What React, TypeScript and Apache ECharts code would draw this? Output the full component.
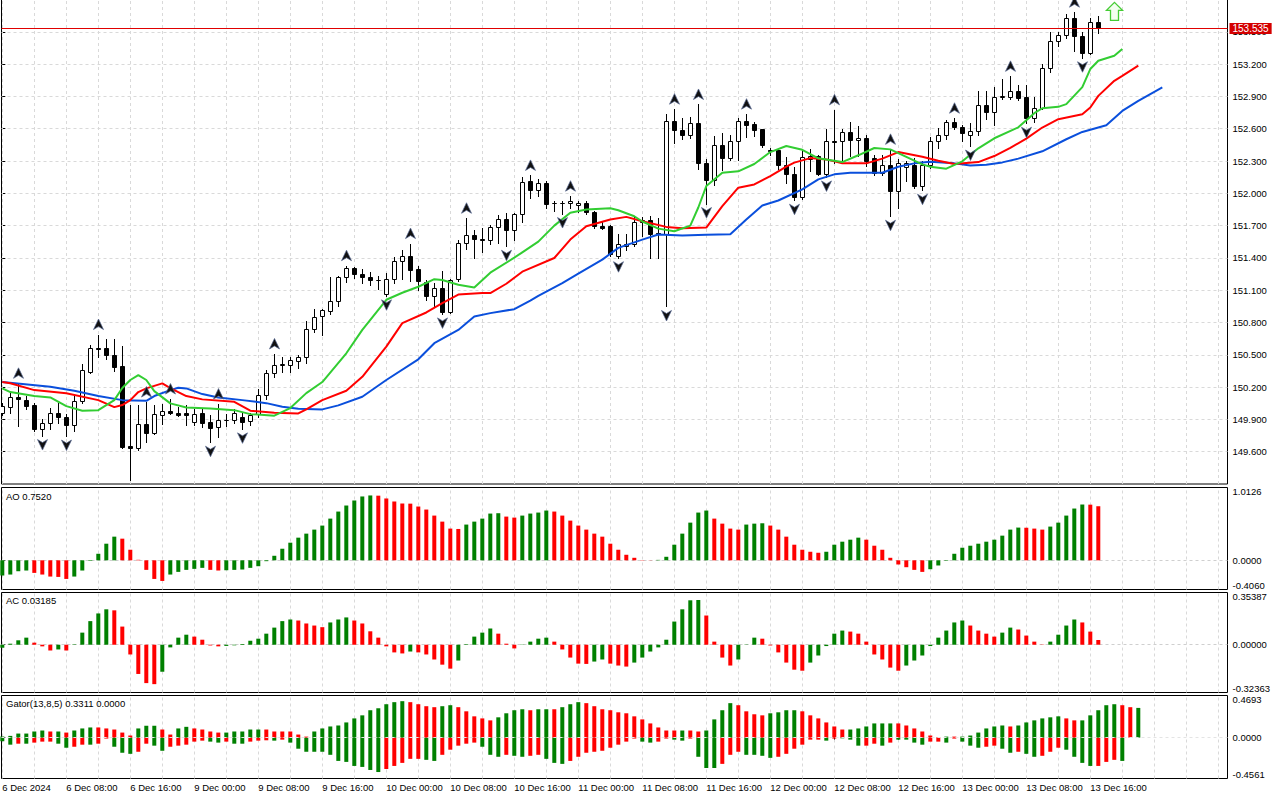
import React, { useEffect, useRef } from "react";
import * as echarts from "echarts";

// ---------------- data ----------------
const timeLabelBars = [0, 8, 16, 24, 32, 40, 48, 56, 64, 72, 80, 88, 96, 104, 112, 120, 128, 136];
const timeLabels = [
  "6 Dec 2024", "6 Dec 08:00", "6 Dec 16:00", "9 Dec 00:00", "9 Dec 08:00", "9 Dec 16:00",
  "10 Dec 00:00", "10 Dec 08:00", "10 Dec 16:00", "11 Dec 00:00", "11 Dec 08:00", "11 Dec 16:00",
  "12 Dec 00:00", "12 Dec 08:00", "12 Dec 16:00", "13 Dec 00:00", "13 Dec 08:00", "13 Dec 16:00",
];

const opens = [
  149.961, 150.011, 150.104, 150.079, 150.030, 149.812, 149.862, 149.955, 149.918, 149.844,
  150.073, 150.340, 150.564, 150.564, 150.501, 150.396, 149.651, 149.632, 149.856, 149.775,
  149.942, 149.980, 149.955, 149.961, 149.874, 149.955, 149.874, 149.825, 149.899, 149.893,
  149.924, 149.881, 149.949, 150.129, 150.328, 150.408, 150.408, 150.440, 150.483, 150.744,
  150.862, 150.906, 150.999, 151.222, 151.309, 151.253, 151.222, 151.197, 151.067, 151.204,
  151.372, 151.421, 151.297, 151.179, 151.042, 151.116, 150.899, 151.204, 151.539, 151.614,
  151.576, 151.570, 151.688, 151.763, 151.663, 151.812, 152.110, 152.029, 152.098, 151.912,
  151.912, 151.912, 151.893, 151.912, 151.824, 151.700, 151.694, 151.421, 151.508, 151.533,
  151.731, 151.756, 151.632, 151.619, 152.669, 152.588, 152.545, 152.651, 152.285, 152.122,
  152.452, 152.327, 152.490, 152.676, 152.644, 152.595, 152.402, 152.402, 152.266, 152.178,
  151.961, 152.315, 152.346, 152.178, 152.490, 152.483, 152.570, 152.495, 152.514, 152.327,
  152.185, 152.266, 152.024, 152.247, 152.266, 152.067, 152.266, 152.483, 152.539, 152.663,
  152.613, 152.539, 152.583, 152.818, 152.756, 152.899, 152.893, 152.949, 152.893, 152.700,
  152.793, 153.160, 153.415, 153.471, 153.626, 153.459, 153.303, 153.595,
];
const closes = [
  150.023, 150.104, 150.086, 150.023, 149.812, 149.862, 149.955, 149.918, 149.844, 150.073,
  150.359, 150.564, 150.557, 150.496, 150.390, 149.644, 149.639, 149.856, 149.775, 149.949,
  149.974, 149.955, 149.942, 149.942, 149.949, 149.868, 149.818, 149.899, 149.893, 149.961,
  149.874, 149.937, 150.123, 150.334, 150.408, 150.410, 150.452, 150.477, 150.744, 150.850,
  150.918, 150.999, 151.222, 151.309, 151.253, 151.222, 151.197, 151.192, 151.204, 151.372,
  151.414, 151.290, 151.185, 151.042, 151.116, 150.899, 151.191, 151.539, 151.614, 151.576,
  151.570, 151.688, 151.763, 151.657, 151.812, 152.108, 152.029, 152.098, 151.899, 151.906,
  151.910, 151.930, 151.912, 151.824, 151.694, 151.682, 151.433, 151.526, 151.533, 151.738,
  151.756, 151.626, 151.619, 152.669, 152.588, 152.545, 152.651, 152.285, 152.122, 152.452,
  152.327, 152.490, 152.676, 152.639, 152.588, 152.446, 152.396, 152.259, 152.178, 151.961,
  152.340, 152.346, 152.178, 152.483, 152.476, 152.570, 152.495, 152.514, 152.303, 152.185,
  152.266, 152.024, 152.285, 152.285, 152.067, 152.266, 152.483, 152.539, 152.663, 152.613,
  152.564, 152.583, 152.818, 152.756, 152.899, 152.902, 152.949, 152.886, 152.700, 152.793,
  153.166, 153.415, 153.471, 153.626, 153.459, 153.303, 153.595, 153.535,
];
const lows = [
  149.939, 149.955, 149.837, 149.993, 149.793, 149.750, 149.812, 149.862, 149.745, 149.793,
  150.049, 150.328, 150.483, 150.458, 150.352, 149.632, 149.334, 149.620, 149.688, 149.762,
  149.856, 149.949, 149.930, 149.849, 149.844, 149.831, 149.688, 149.732, 149.837, 149.862,
  149.812, 149.844, 149.918, 150.091, 150.296, 150.340, 150.340, 150.377, 150.421, 150.713,
  150.682, 150.880, 150.955, 151.172, 151.209, 151.166, 151.148, 151.111, 151.048, 151.166,
  151.204, 151.185, 151.098, 151.011, 150.949, 150.880, 150.890, 151.185, 151.483, 151.396,
  151.458, 151.533, 151.542, 151.508, 151.563, 151.731, 151.955, 151.973, 151.862, 151.831,
  151.812, 151.868, 151.824, 151.812, 151.675, 151.670, 151.421, 151.402, 151.477, 151.508,
  151.607, 151.396, 151.396, 150.949, 152.471, 152.502, 152.514, 152.229, 151.905, 152.080,
  152.216, 152.309, 152.309, 152.527, 152.532, 152.434, 152.359, 152.229, 152.092, 151.936,
  151.943, 152.204, 152.171, 152.152, 152.285, 152.285, 152.346, 152.346, 152.253, 152.173,
  152.173, 151.787, 151.868, 152.110, 152.048, 152.029, 152.234, 152.421, 152.502, 152.595,
  152.490, 152.439, 152.539, 152.688, 152.632, 152.874, 152.874, 152.868, 152.651, 152.660,
  152.781, 153.129, 153.365, 153.445, 153.322, 153.259, 153.296, 153.489,
];
const highs = [
  150.049, 150.147, 150.235, 150.117, 150.049, 149.905, 150.005, 150.049, 149.949, 150.123,
  150.415, 150.594, 150.688, 150.645, 150.650, 150.582, 150.030, 150.035, 150.061, 150.030,
  150.042, 150.089, 150.011, 150.035, 149.998, 149.998, 149.942, 150.042, 149.949, 149.998,
  149.961, 149.961, 150.179, 150.359, 150.508, 150.477, 150.483, 150.500, 150.818, 150.924,
  150.930, 151.222, 151.235, 151.328, 151.315, 151.297, 151.272, 151.228, 151.260, 151.409,
  151.477, 151.533, 151.321, 151.197, 151.166, 151.278, 151.204, 151.570, 151.768, 151.657,
  151.675, 151.707, 151.794, 151.819, 151.819, 152.154, 152.166, 152.135, 152.110, 151.924,
  151.924, 151.973, 151.924, 151.930, 151.837, 151.738, 151.707, 151.626, 151.626, 151.787,
  151.781, 151.787, 151.775, 152.737, 152.781, 152.700, 152.713, 152.825, 152.322, 152.532,
  152.558, 152.545, 152.697, 152.735, 152.663, 152.601, 152.421, 152.421, 152.340, 152.247,
  152.408, 152.408, 152.359, 152.601, 152.775, 152.601, 152.663, 152.626, 152.545, 152.359,
  152.359, 152.408, 152.315, 152.297, 152.327, 152.297, 152.520, 152.607, 152.681, 152.697,
  152.639, 152.657, 152.949, 152.949, 152.986, 153.061, 153.086, 153.005, 153.005, 152.893,
  153.198, 153.496, 153.501, 153.664, 153.682, 153.501, 153.626, 153.645,
];

const fractalUpBars = [2, 12, 18, 21, 27, 34, 43, 51, 58, 66, 71, 84, 87, 93, 104, 111, 119, 126, 134];
const fractalDownBars = [5, 8, 16, 26, 30, 48, 55, 63, 70, 77, 83, 88, 99, 103, 111, 115, 121, 128, 135];

const lastPrice = 153.535;
const signalBar = 139;
const signalPrice = 153.69;

// Alligator: [bar, price]
const jawLine = [
  [0, 150.247], [6, 150.203], [9, 150.166], [12, 150.117], [15, 150.079], [18, 150.073], [19, 150.117],
  [21, 150.172], [22, 150.194], [23, 150.188], [25, 150.135], [27, 150.104], [30, 150.079], [33, 150.051],
  [35, 150.017], [37, 149.998], [40, 149.993], [42, 150.030], [45, 150.110], [48, 150.266], [52, 150.458],
  [54, 150.608], [57, 150.731], [59, 150.855], [61, 150.887], [64, 150.924], [66, 151.004], [67, 151.048],
  [70, 151.166], [72, 151.253], [75, 151.384], [77, 151.493], [80, 151.570], [82, 151.617], [85, 151.607],
  [88, 151.614], [91, 151.619], [93, 151.756], [95, 151.887], [97, 151.933], [100, 152.036], [102, 152.129],
  [104, 152.176], [106, 152.191], [110, 152.191], [112, 152.247], [114, 152.278], [116, 152.294], [119, 152.278],
  [121, 152.259], [123, 152.266], [125, 152.287], [127, 152.322], [130, 152.390], [133, 152.502], [135, 152.570],
  [138, 152.632], [140, 152.765], [142, 152.859], [145, 152.983],
];
const teethLine = [
  [0, 150.247], [1, 150.235], [4, 150.172], [8, 150.142], [12, 150.079], [14, 150.014], [15, 150.033],
  [16, 150.079], [17, 150.154], [18, 150.188], [20, 150.235], [21, 150.191], [23, 150.117], [25, 150.086],
  [29, 150.063], [31, 149.981], [34, 149.961], [37, 149.955], [38, 149.993], [40, 150.079], [43, 150.166],
  [45, 150.296], [48, 150.576], [50, 150.794], [53, 150.893], [55, 150.980], [57, 151.060], [60, 151.073],
  [61, 151.073], [63, 151.160], [65, 151.272], [69, 151.399], [71, 151.570], [73, 151.694], [76, 151.756],
  [78, 151.781], [80, 151.740], [83, 151.688], [85, 151.675], [88, 151.682], [90, 151.880], [92, 152.052],
  [94, 152.082], [96, 152.160], [98, 152.247], [99, 152.285], [101, 152.327], [103, 152.315], [105, 152.278],
  [108, 152.278], [110, 152.322], [112, 152.383], [115, 152.340], [117, 152.303], [119, 152.272], [122, 152.290],
  [124, 152.346], [126, 152.422], [128, 152.508], [130, 152.611], [132, 152.688], [135, 152.735], [136, 152.797],
  [137, 152.905], [139, 153.045], [140, 153.091], [142, 153.185],
];
const lipsLine = [
  [0, 150.188], [1, 150.154], [4, 150.117], [6, 150.104], [8, 150.023], [10, 149.981], [12, 149.986],
  [14, 150.079], [15, 150.191], [16, 150.266], [17, 150.312], [18, 150.266], [19, 150.163], [21, 150.049],
  [23, 150.011], [26, 150.002], [29, 149.986], [31, 149.949], [34, 149.935], [36, 150.005], [38, 150.144],
  [40, 150.247], [43, 150.514], [45, 150.731], [48, 151.011], [50, 151.076], [52, 151.132], [54, 151.202],
  [55, 151.195], [57, 151.151], [59, 151.126], [61, 151.263], [64, 151.402], [65, 151.452], [67, 151.551],
  [69, 151.700], [71, 151.819], [73, 151.849], [76, 151.862], [77, 151.843], [79, 151.787], [80, 151.738],
  [82, 151.672], [84, 151.647], [86, 151.700], [87, 151.868], [88, 152.067], [90, 152.190], [92, 152.204],
  [94, 152.272], [96, 152.383], [98, 152.439], [100, 152.404], [102, 152.325], [105, 152.290], [107, 152.353],
  [109, 152.421], [111, 152.408], [113, 152.339], [115, 152.269], [116, 152.247], [118, 152.229], [120, 152.297],
  [122, 152.418], [124, 152.511], [127, 152.613], [129, 152.744], [130, 152.790], [132, 152.803], [133, 152.828],
  [135, 152.986], [136, 153.154], [137, 153.231], [139, 153.278], [140, 153.340],
];

// Awesome Oscillator
const aoValues = [
  -0.212, -0.198, -0.152, -0.142, -0.175, -0.198, -0.226, -0.231, -0.259, -0.226,
  -0.142, -0.008, 0.091, 0.231, 0.329, 0.301, 0.147, 0.007, -0.133, -0.259,
  -0.287, -0.198, -0.161, -0.133, -0.119, -0.105, -0.133, -0.142, -0.138, -0.133,
  -0.128, -0.105, -0.082, -0.012, 0.063, 0.161, 0.245, 0.315, 0.371, 0.427,
  0.483, 0.580, 0.678, 0.762, 0.832, 0.888, 0.902, 0.899, 0.860, 0.818,
  0.790, 0.788, 0.748, 0.706, 0.622, 0.538, 0.441, 0.436, 0.497, 0.538,
  0.580, 0.650, 0.655, 0.608, 0.594, 0.622, 0.650, 0.664, 0.692, 0.678,
  0.622, 0.552, 0.483, 0.427, 0.371, 0.329, 0.231, 0.147, 0.077, 0.035,
  0.004, 0.002, 0.006, 0.049, 0.217, 0.371, 0.524, 0.664, 0.692, 0.580,
  0.510, 0.441, 0.427, 0.497, 0.510, 0.515, 0.483, 0.427, 0.329, 0.217,
  0.147, 0.119, 0.105, 0.119, 0.217, 0.259, 0.287, 0.315, 0.287, 0.203,
  0.147, 0.035, -0.058, -0.096, -0.133, -0.161, -0.124, -0.072, -0.007, 0.091,
  0.175, 0.203, 0.231, 0.259, 0.287, 0.343, 0.427, 0.455, 0.453, 0.441,
  0.427, 0.469, 0.524, 0.622, 0.720, 0.776, 0.774, 0.752,
];
const aoDirections =
  "GGGGRRRRRG" + "GGGGGRRRRR" + "RGGGGGRRGG" + "GGGGGGGGGG" + "GGGGGGGRRR" +
  "RRRRRRRRGG" + "GGGRRGGGGR" + "RRRRRRRRRR" + "RRGGGGGGGR" + "RRRGGGRRRR" +
  "RRRGGGGGRR" + "RRRRRRGGGG" + "GGGGGGGGRR" + "RGGGGGRR";

// Accelerator Oscillator
const acValues = [
  -0.021, 0.007, 0.030, 0.048, 0.014, -0.011, -0.039, -0.032, -0.039, 0.003,
  0.082, 0.160, 0.212, 0.240, 0.233, 0.123, -0.066, -0.198, -0.260, -0.267,
  -0.183, -0.018, 0.048, 0.068, 0.055, 0.034, -0.005, -0.011, -0.008, -0.004,
  0.005, 0.027, 0.041, 0.075, 0.116, 0.160, 0.171, 0.164, 0.144, 0.130,
  0.119, 0.151, 0.171, 0.185, 0.164, 0.144, 0.091, 0.048, -0.011, -0.052,
  -0.059, -0.046, -0.052, -0.066, -0.100, -0.135, -0.162, -0.107, 0.004, 0.055,
  0.082, 0.110, 0.075, 0.007, -0.025, -0.002, 0.021, 0.041, 0.048, 0.021,
  -0.032, -0.087, -0.128, -0.130, -0.114, -0.100, -0.128, -0.141, -0.148, -0.121,
  -0.087, -0.046, -0.018, 0.034, 0.157, 0.240, 0.301, 0.303, 0.198, 0.021,
  -0.087, -0.141, -0.100, 0.002, 0.048, 0.041, -0.005, -0.052, -0.121, -0.169,
  -0.176, -0.121, -0.073, -0.009, 0.075, 0.096, 0.089, 0.075, 0.021, -0.066,
  -0.100, -0.155, -0.176, -0.141, -0.107, -0.073, -0.009, 0.048, 0.096, 0.151,
  0.164, 0.130, 0.096, 0.075, 0.055, 0.082, 0.116, 0.103, 0.062, 0.021,
  -0.002, 0.021, 0.068, 0.130, 0.171, 0.151, 0.089, 0.032,
];
const acDirections =
  "GGGGRRRGRG" + "GGGGRRRRRR" + "GGGGRRRRGG" + "GGGGGGGRRR" + "RGGGRRRRRR" +
  "RGRRRRRGGG" + "GGRRRGGGGR" + "RRRRGGRRRG" + "GGGGGGGGRR" + "RRGGGRRRRR" +
  "RGGGGGRRRR" + "RRRGGGGGGG" + "GRRRRGGRRR" + "RGGGGRRR";

// Gator oscillator
const gatorUpper = [
  0.011, 0.019, 0.045, 0.045, 0.068, 0.079, 0.068, 0.068, 0.056, 0.079,
  0.102, 0.113, 0.113, 0.102, 0.090, 0.056, 0.023, 0.102, 0.132, 0.132,
  0.090, 0.034, 0.102, 0.120, 0.102, 0.090, 0.068, 0.056, 0.056, 0.068,
  0.068, 0.090, 0.090, 0.090, 0.068, 0.068, 0.068, 0.034, 0.011, 0.068,
  0.102, 0.124, 0.135, 0.169, 0.214, 0.248, 0.305, 0.327, 0.372, 0.395,
  0.406, 0.395, 0.372, 0.350, 0.339, 0.350, 0.361, 0.339, 0.293, 0.237,
  0.214, 0.192, 0.226, 0.271, 0.305, 0.316, 0.305, 0.316, 0.316, 0.316,
  0.339, 0.372, 0.395, 0.384, 0.350, 0.316, 0.305, 0.282, 0.271, 0.237,
  0.203, 0.158, 0.113, 0.079, 0.079, 0.079, 0.079, 0.068, 0.079, 0.203,
  0.305, 0.384, 0.361, 0.293, 0.260, 0.248, 0.271, 0.282, 0.305, 0.305,
  0.293, 0.248, 0.214, 0.169, 0.124, 0.090, 0.090, 0.102, 0.124, 0.158,
  0.158, 0.158, 0.158, 0.135, 0.102, 0.068, 0.023, 0.004, 0.011, 0.011,
  0.011, 0.023, 0.056, 0.102, 0.124, 0.135, 0.124, 0.135, 0.169, 0.192,
  0.214, 0.226, 0.237, 0.214, 0.192, 0.192, 0.248, 0.305, 0.361, 0.372,
  0.361, 0.339, 0.331,
];
const gatorUpperDirections =
  "GGGGGGRGRG" + "GGRRRRRGGG" + "RRGGRRRRGG" + "GGGRRRRRRG" + "GGGGGGGGGG" +
  "GRRRRGGRRR" + "RRGGGGRGGR" + "GGGRRRRRRR" + "RRRRRGRRGG" + "GGRRRRGGGG" +
  "RRRRRRGGGG" + "GGRRRRRRGR" + "GGGGGGRGGG" + "GGGRRGGGGG" + "RRG";
const gatorLower = [
  -0.041, -0.079, -0.068, -0.068, -0.056, -0.045, -0.045, -0.068, -0.113, -0.102,
  -0.079, -0.079, -0.068, -0.011, -0.102, -0.169, -0.181, -0.158, -0.068, -0.090,
  -0.147, -0.102, -0.090, -0.079, -0.045, -0.034, -0.045, -0.056, -0.045, -0.068,
  -0.068, -0.045, -0.034, -0.030, -0.034, -0.023, -0.056, -0.124, -0.158, -0.158,
  -0.158, -0.192, -0.260, -0.271, -0.316, -0.327, -0.361, -0.384, -0.350, -0.316,
  -0.282, -0.237, -0.237, -0.248, -0.260, -0.192, -0.135, -0.090, -0.068, -0.056,
  -0.102, -0.192, -0.214, -0.192, -0.203, -0.214, -0.203, -0.192, -0.237, -0.282,
  -0.293, -0.260, -0.214, -0.169, -0.158, -0.147, -0.113, -0.079, -0.045, -0.011,
  -0.045, -0.056, -0.045, -0.011, -0.023, -0.034, -0.011, -0.214, -0.339, -0.339,
  -0.293, -0.192, -0.158, -0.192, -0.192, -0.203, -0.226, -0.214, -0.181, -0.124,
  -0.079, -0.023, -0.023, -0.034, -0.011, -0.008, -0.023, -0.090, -0.090, -0.068,
  -0.090, -0.056, -0.023, -0.023, -0.056, -0.079, -0.045, -0.045, -0.056, -0.011,
  -0.045, -0.090, -0.113, -0.102, -0.090, -0.124, -0.169, -0.158, -0.181, -0.214,
  -0.203, -0.158, -0.113, -0.135, -0.214, -0.282, -0.316, -0.316, -0.271, -0.248,
  -0.260,
];
const gatorLowerDirections =
  "GGRGRRRGGR" + "RGRRGGGRRG" + "GRRRRRGGRG" + "GRRRGRGGGG" + "GGGGGGGGRR" +
  "RRRGGRRRRR" + "GGGRGGRRGG" + "GRRRRRRRRR" + "GGRRGGRGGG" + "RRRGGGGRRR" +
  "RRRGRGGGRR" + "GRGGGGRRGR" + "GGGRRGGRGG" + "RRRGGGGRRRG";

// panel scales (min, zero, max) as printed on the right axis
const aoScale = [-0.406, 0, 1.0126];
const acScale = [-0.32363, 0, 0.35387];
const gatorScale = [-0.4561, 0, 0.4693];
const aoTitle = "AO 0.7520";
const acTitle = "AC 0.03185";
const gatorTitle = "Gator(13,8,5) 0.3311 0.0000";

// ---------------- styling / layout ----------------
const FONT = '"Liberation Sans", Arial, sans-serif';
const FS = 9.5;
const GREEN = "#008000";
const RED = "#ff0000";
const GRID_LINE = "#d9d9d9";
const PLOT_LEFT = 1.5;
const PLOT_WIDTH = 1226;
const X_MIN = -0.1;
const X_MAX = X_MIN + PLOT_WIDTH / 8;

const gridBars: number[] = [];
for (let b = 0; b <= 152; b += 4) gridBars.push(b);

function colorOf(ch: string) {
  return ch === "G" ? GREEN : RED;
}

function makeXAxis(gridIndex: number, showLabels: boolean) {
  return {
    type: "value",
    gridIndex,
    min: X_MIN,
    max: X_MAX,
    show: showLabels,
    axisLine: { show: false },
    splitLine: { show: false },
    axisTick: {
      show: showLabels,
      length: 4,
      customValues: timeLabelBars,
      lineStyle: { color: "#000", width: 1 },
    },
    axisLabel: {
      show: showLabels,
      customValues: timeLabelBars,
      formatter: (v: number) => {
        const k = timeLabelBars.indexOf(Math.round(v));
        return k >= 0 ? timeLabels[k] : "";
      },
      align: "left",
      margin: 4,
      color: "#000",
      fontFamily: FONT,
      fontSize: FS,
    },
  };
}

function makeSubYAxis(gridIndex: number, scale: number[], digits: number) {
  const [min, , max] = scale;
  return {
    type: "value",
    gridIndex,
    position: "right",
    min,
    max,
    axisLine: { show: false },
    splitLine: { show: false },
    axisTick: { show: true, length: 3, customValues: scale, lineStyle: { color: "#000" } },
    axisLabel: {
      customValues: scale,
      margin: 5,
      color: "#000",
      fontFamily: FONT,
      fontSize: FS,
      formatter: (v: number) => {
        const s = v.toFixed(digits);
        if (Math.abs(v - max) < 1e-9) return "{t|" + s + "}";
        if (Math.abs(v - min) < 1e-9) return "{b|" + s + "}";
        return s;
      },
      rich: {
        t: { padding: [8, 0, 0, 0], fontFamily: FONT, fontSize: FS, color: "#000" },
        b: { padding: [0, 0, 9, 0], fontFamily: FONT, fontSize: FS, color: "#000" },
      },
    },
  };
}

function gridMarkLine(z: number, withZero: boolean, zeroColor: string) {
  const data: any[] = gridBars.map((b) => ({ xAxis: b }));
  if (withZero) data.push({ yAxis: 0, lineStyle: { color: zeroColor, type: [3, 3], width: 1 } });
  return {
    silent: true,
    symbol: "none",
    z,
    animation: false,
    label: { show: false },
    emphasis: { disabled: true },
    lineStyle: { color: GRID_LINE, type: [3, 3], width: 1 },
    data,
  };
}

function buildOption() {
  const candleData = opens.map((o, i) => [i, o, closes[i], lows[i], highs[i]]);
  const fractalData = [
    ...fractalUpBars.map((b) => [b, highs[b], 1]),
    ...fractalDownBars.map((b) => [b, lows[b], -1]),
  ];

  const grids = [
    { left: PLOT_LEFT, width: PLOT_WIDTH, top: -0.5, height: 484.5 },
    { left: PLOT_LEFT, width: PLOT_WIDTH, top: 487.5, height: 102 },
    { left: PLOT_LEFT, width: PLOT_WIDTH, top: 592.5, height: 100 },
    { left: PLOT_LEFT, width: PLOT_WIDTH, top: 695.5, height: 83 },
  ].map((g) => ({
    ...g,
    show: true,
    borderColor: "#000",
    borderWidth: 1,
    backgroundColor: "#fff",
    containLabel: false,
    outerBoundsMode: "none",
  }));

  const priceLineStyle = { color: "#e00000", type: "solid", width: 1 };

  const series: any[] = [
    // alligator jaw (blue) + vertical grid
    {
      type: "line",
      name: "jaw",
      xAxisIndex: 0,
      yAxisIndex: 0,
      data: jawLine,
      showSymbol: false,
      symbol: "none",
      z: 3,
      lineStyle: { color: "#0a4fdc", width: 2 },
      markLine: gridMarkLine(1, false, GRID_LINE),
    },
    {
      type: "custom",
      name: "candles",
      xAxisIndex: 0,
      yAxisIndex: 0,
      clip: true,
      z: 2,
      encode: { x: 0, y: [1, 2, 3, 4] },
      data: candleData,
      renderItem: (_params: any, api: any) => {
        const i = api.value(0);
        const o = api.value(1);
        const c = api.value(2);
        const l = api.value(3);
        const h = api.value(4);
        const pO = api.coord([i, o]);
        const pC = api.coord([i, c]);
        const pL = api.coord([i, l]);
        const pH = api.coord([i, h]);
        const x = Math.round(pO[0]) + 0.5;
        const yTop = Math.round(Math.min(pO[1], pC[1])) + 0.5;
        const yBot = Math.round(Math.max(pO[1], pC[1])) + 0.5;
        const bull = c >= o;
        return {
          type: "group",
          children: [
            {
              type: "line",
              shape: { x1: x, y1: Math.round(pH[1]), x2: x, y2: Math.round(pL[1]) + 1 },
              style: { stroke: "#000", lineWidth: 1 },
            },
            {
              type: "rect",
              shape: { x: x - 2, y: yTop, width: 4, height: Math.max(0, yBot - yTop) },
              style: { fill: bull ? "#fff" : "#000", stroke: "#000", lineWidth: 1 },
            },
          ],
        };
      },
      markLine: {
        silent: true,
        symbol: "none",
        z: 8,
        animation: false,
        emphasis: { disabled: true },
        itemStyle: { color: "#e00000" },
        lineStyle: priceLineStyle,
        label: {
          show: true,
          position: "end",
          formatter: lastPrice.toFixed(3),
          color: "#fff",
          backgroundColor: "#d40000",
          padding: [1, 3, 0, 3],
          distance: 2,
          fontFamily: FONT,
          fontSize: 10,
        },
        data: [{ yAxis: lastPrice, lineStyle: priceLineStyle }],
      },
    },
    {
      type: "line",
      name: "teeth",
      xAxisIndex: 0,
      yAxisIndex: 0,
      data: teethLine,
      showSymbol: false,
      symbol: "none",
      z: 4,
      lineStyle: { color: "#ff0000", width: 2 },
    },
    {
      type: "line",
      name: "lips",
      xAxisIndex: 0,
      yAxisIndex: 0,
      data: lipsLine,
      showSymbol: false,
      symbol: "none",
      z: 5,
      lineStyle: { color: "#32cd32", width: 2 },
    },
    {
      type: "custom",
      name: "fractals",
      xAxisIndex: 0,
      yAxisIndex: 0,
      clip: true,
      z: 6,
      encode: { x: 0, y: 1 },
      data: fractalData,
      renderItem: (_params: any, api: any) => {
        const p = api.coord([api.value(0), api.value(1)]);
        const dir = api.value(2);
        const cx = Math.round(p[0]) + 0.5;
        if (dir > 0) {
          const cy = p[1] - 10;
          return {
            type: "polygon",
            shape: { points: [[cx, cy - 5.5], [cx + 5, cy + 5], [cx, cy + 2], [cx - 5, cy + 5]] },
            style: { fill: "#111", stroke: "#55658f", lineWidth: 0.7 },
          };
        }
        const cy = p[1] + 9;
        return {
          type: "polygon",
          shape: { points: [[cx, cy + 5.5], [cx + 5, cy - 5], [cx, cy - 2], [cx - 5, cy - 5]] },
          style: { fill: "#111", stroke: "#55658f", lineWidth: 0.7 },
        };
      },
    },
    {
      type: "custom",
      name: "signal",
      xAxisIndex: 0,
      yAxisIndex: 0,
      z: 6,
      encode: { x: 0, y: 1 },
      data: [[signalBar, signalPrice]],
      renderItem: (_params: any, api: any) => {
        const p = api.coord([api.value(0), api.value(1)]);
        const cx = Math.round(p[0]) + 0.5;
        const top = p[1] - 9;
        return {
          type: "polygon",
          shape: {
            points: [
              [cx, top], [cx + 8, top + 8], [cx + 4, top + 8], [cx + 4, top + 18],
              [cx - 4, top + 18], [cx - 4, top + 8], [cx - 8, top + 8],
            ],
          },
          style: { fill: "#f4fff0", stroke: "#44cc33", lineWidth: 1.3 },
        };
      },
    },
    // AO
    {
      type: "bar",
      name: "AO",
      xAxisIndex: 1,
      yAxisIndex: 1,
      barWidth: 4,
      z: 2,
      data: aoValues.map((v, i) => ({ value: [i, v], itemStyle: { color: colorOf(aoDirections[i]) } })),
      markLine: gridMarkLine(1, true, "#cfcfcf"),
    },
    // AC
    {
      type: "bar",
      name: "AC",
      xAxisIndex: 2,
      yAxisIndex: 2,
      barWidth: 4,
      z: 2,
      data: acValues.map((v, i) => ({ value: [i, v], itemStyle: { color: colorOf(acDirections[i]) } })),
      markLine: gridMarkLine(1, true, "#cfcfcf"),
    },
    // Gator
    {
      type: "bar",
      name: "GatorLower",
      xAxisIndex: 3,
      yAxisIndex: 3,
      barWidth: 4,
      barGap: "-100%",
      z: 2,
      data: gatorLower.map((v, i) => ({ value: [i, v], itemStyle: { color: colorOf(gatorLowerDirections[i]) } })),
      markLine: gridMarkLine(1, false, GRID_LINE),
    },
    {
      type: "bar",
      name: "GatorUpper",
      xAxisIndex: 3,
      yAxisIndex: 3,
      barWidth: 4,
      barGap: "-100%",
      z: 2,
      data: gatorUpper.map((v, i) => ({ value: [i, v], itemStyle: { color: colorOf(gatorUpperDirections[i]) } })),
      markLine: {
        silent: true,
        symbol: "none",
        z: 6,
        animation: false,
        label: { show: false },
        emphasis: { disabled: true },
        lineStyle: { color: "#e4e4e4", type: [3, 3], width: 1 },
        data: [{ yAxis: 0 }],
      },
    },
  ];

  return {
    animation: false,
    backgroundColor: "#fff",
    textStyle: { fontFamily: FONT, fontSize: FS },
    grid: grids,
    xAxis: [makeXAxis(0, false), makeXAxis(1, false), makeXAxis(2, false), makeXAxis(3, true)],
    yAxis: [
      {
        type: "value",
        gridIndex: 0,
        position: "right",
        min: 149.3,
        max: 153.8,
        interval: 0.3,
        axisLine: { show: false },
        axisTick: { show: true, length: 3, lineStyle: { color: "#000" } },
        axisLabel: {
          margin: 5,
          showMinLabel: false,
          showMaxLabel: false,
          color: "#000",
          fontFamily: FONT,
          fontSize: FS,
          formatter: (v: number) => v.toFixed(3),
        },
        splitLine: {
          show: true,
          showMinLine: false,
          showMaxLine: false,
          lineStyle: { color: GRID_LINE, type: [3, 3], width: 1 },
        },
      },
      makeSubYAxis(1, aoScale, 4),
      makeSubYAxis(2, acScale, 5),
      makeSubYAxis(3, gatorScale, 4),
    ],
    graphic: [
      { type: "text", left: 6, top: 491, z: 20, style: { text: aoTitle, fill: "#000", font: `${FS}px ${FONT}` } },
      { type: "text", left: 6, top: 595, z: 20, style: { text: acTitle, fill: "#000", font: `${FS}px ${FONT}` } },
      { type: "text", left: 6, top: 698, z: 20, style: { text: gatorTitle, fill: "#000", font: `${FS}px ${FONT}` } },
    ],
    series,
  };
}

export default function App() {
  const ref = useRef<HTMLDivElement>(null);
  useEffect(() => {
    if (!ref.current) return;
    const chart = echarts.init(ref.current, undefined, { renderer: "svg" });
    chart.setOption(buildOption() as any);
    return () => {
      chart.dispose();
    };
  }, []);
  return (
    <div
      ref={ref}
      style={{ position: "fixed", left: 0, top: 0, width: 1280, height: 800, background: "#fff" }}
    />
  );
}
